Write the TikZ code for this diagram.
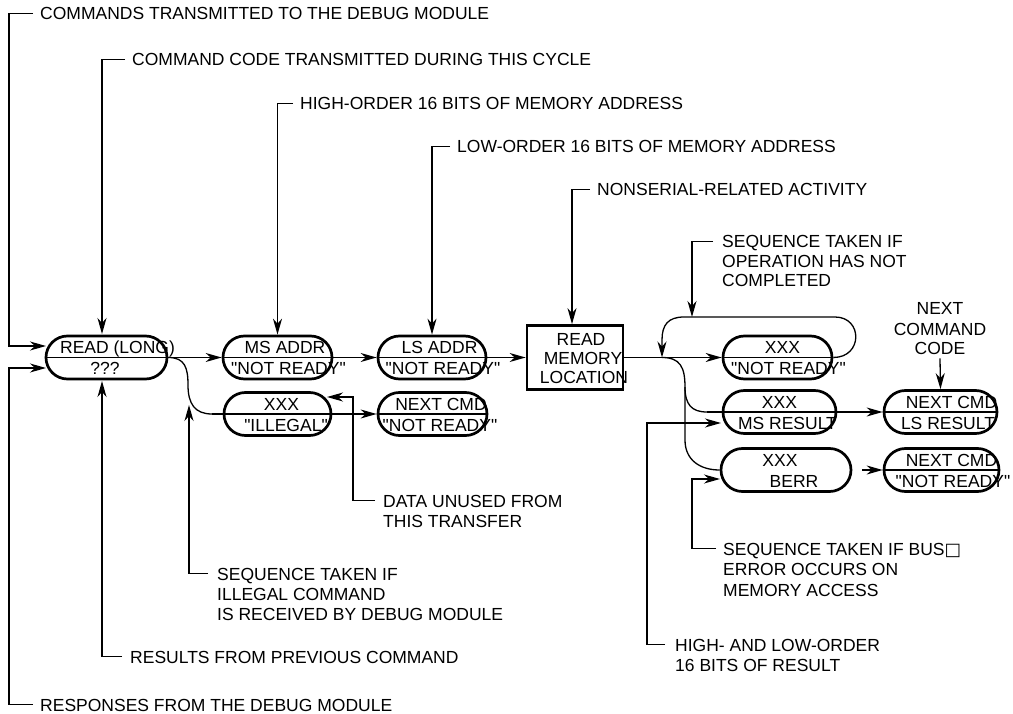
\documentclass[tikz,border=0pt]{standalone}
\usepackage{fontspec}
\setmainfont{Liberation Sans}[Ligatures=TeXOff]
\newfontfamily\symfont{DejaVu Sans}
\usetikzlibrary{arrows.meta,calc}
\newcommand\mkpill[8]{%
  \node[pill,minimum width=#4] (#1) at (#2,#3) {};
  \node[ntext] (#1a) at ($(#1.center)+(#5,-4)$) {#6};
  \node[ntext] (#1b) at ($(#1.center)+(#7,17)$) {#8};}
\begin{document}
\begin{tikzpicture}[x=1pt,y=-1pt,
  every node/.style={font=\fontsize{17.5}{19.5}\selectfont, inner sep=0pt},
  conn/.style={line width=1.3pt},
  arr/.style={conn,-{Stealth[length=16pt,width=9pt,inset=5pt]}},
  pill/.style={draw,line width=2.7pt,rounded corners=21.5pt,minimum height=43},
  membox/.style={draw,line width=2.7pt,minimum width=96,minimum height=64},
  lbl/.style={anchor=base west,text height=12.5pt,text depth=0pt},
  ntext/.style={anchor=base},
]
\useasboundingbox (0,0) rectangle (1013,714);

% ---- state nodes ----
\mkpill{read}{106.5}{357.5}{121}{11}{READ (LONG)}{-1.5}{???}
\mkpill{msa}{277.5}{357.5}{109}{7.5}{MS ADDR}{11}{"NOT READY"}
\mkpill{lsa}{432}{357.5}{108}{7.5}{LS ADDR}{11}{"NOT READY"}
\mkpill{ill}{277.5}{414}{107}{4}{XXX}{8.5}{"ILLEGAL"}
\mkpill{nctwo}{432.5}{414}{109}{8.5}{NEXT CMD}{7.5}{"NOT READY"}
\mkpill{xnr}{777.5}{357.5}{109}{5}{XXX}{11}{"NOT READY"}
\mkpill{msr}{779.5}{412}{113}{0}{XXX}{8}{MS RESULT}
\mkpill{berr}{786}{470}{130}{-6}{XXX}{8}{BERR}
\mkpill{nls}{940.5}{412}{113}{11}{NEXT CMD}{7.5}{LS RESULT}
\mkpill{nnr}{941.5}{470}{115}{10}{NEXT CMD}{11.5}{"NOT READY"}

\node[membox] (box) at (575,357.5) {};
\node[ntext] (boxa) at (581,345) {READ};
\node[ntext] (boxb) at (583,364) {MEMORY};
\node[ntext] (boxc) at (584,383) {LOCATION};

% ---- main transmission line ----
\draw[arr] (read.west) -- (msa.west);
\draw[arr] (msa.west) -- (lsa.west);
\draw[arr] (lsa.west) -- (box.west);
\coordinate (jn) at (662,357.5);
\draw[arr] (box.east) -- (xnr.west);
\draw[conn] (xnr.west) -- (xnr.east);
\draw[conn] (nctwo.west) -- (nctwo.east);
\draw[conn] (nls.west) -- (nls.east);
\draw[conn] (nnr.west) -- (nnr.east);

% loop: operation not completed
\draw[arr] (xnr.east) .. controls (863,357.5) and (863,317) .. (835,317)
  -- (684,317) .. controls (668,317) and (662,325) .. (662,340) -- (jn);

% right branches
\draw[conn] (jn) .. controls (680,357.5) and (685,367) .. (685,387) coordinate (jv)
  .. controls (685,405) and (692,412) .. (707,412) coordinate (jm);
\draw[arr] (jm) -- (nls.west);
\draw[conn] (jv) -- (685,440) .. controls (685,460) and (700,470) .. (berr.west);
\draw[arr] ([xshift=10pt]berr.east) -- (nnr.west);

% left branch (illegal)
\draw[conn] (read.east) .. controls (185,357.5) and (188,368) .. (188,385)
  .. controls (188,404) and (195,414) .. (212,414) coordinate (im);
\draw[arr] (im) -- (nctwo.west);

% ---- labels ----
\node[lbl] (l1) at (40,20) {COMMANDS TRANSMITTED TO THE DEBUG MODULE};
\coordinate (t1) at (46,346);
\draw[arr] ([xshift=-7pt]l1.west) -- ++(-24,0) |- (t1);

\node[lbl] (l2) at (132,66) {COMMAND CODE TRANSMITTED DURING THIS CYCLE};
\coordinate (t2) at (102,334);
\draw[arr] ([xshift=-7pt]l2.west) -| (t2);

\node[lbl] (l3) at (300,110) {HIGH-ORDER 16 BITS OF MEMORY ADDRESS};
\draw[arr] ([xshift=-7pt]l3.west) -| (msa.north);

\node[lbl] (l4) at (457,153) {LOW-ORDER 16 BITS OF MEMORY ADDRESS};
\draw[arr] ([xshift=-7pt]l4.west) -| (lsa.north);

\node[lbl] (l5) at (597,196) {NONSERIAL-RELATED ACTIVITY};
\coordinate (t5) at ($(box.north)+(-3,0)$);
\draw[arr] ([xshift=-7pt]l5.west) -| (t5);

\node[lbl] (l6) at (722,248) {SEQUENCE TAKEN IF};
\node[lbl] (l6b) at (722,267.5) {OPERATION HAS NOT};
\node[lbl] (l6c) at (722,287) {COMPLETED};
\coordinate (t6) at (692,317);
\draw[arr] ([xshift=-9pt]l6.west) -| (t6);

\node[ntext] (nxa) at (940,315) {NEXT};
\node[ntext] (nxb) at (940,335) {COMMAND};
\node[ntext] (nxc) at (940,355) {CODE};
\draw[arr] ([yshift=-3pt]nxc.south) -- (nls.north);

\node[lbl] (l7) at (383,507) {DATA UNUSED FROM};
\node[lbl] (l7b) at (383,527) {THIS TRANSFER};
\coordinate (t7) at (327,397);
\draw[arr] ([xshift=-8pt]l7.west) -- ++(-22,0) |- (t7);

\node[lbl] (l8) at (217,580) {SEQUENCE TAKEN IF};
\node[lbl] (l8b) at (217,600) {ILLEGAL COMMAND};
\node[lbl] (l8c) at (217,620) {IS RECEIVED BY DEBUG MODULE};
\coordinate (t8) at (189,405);
\draw[arr] ([xshift=-9pt]l8.west) -| (t8);

\node[lbl] (l9) at (130,663) {RESULTS FROM PREVIOUS COMMAND};
\coordinate (t9) at (102,381);
\draw[arr] ([xshift=-8pt]l9.west) -| (t9);

\node[lbl] (l10) at (40,711) {RESPONSES FROM THE DEBUG MODULE};
\coordinate (t10) at (46,368);
\draw[arr] ([xshift=-7pt]l10.west) -- ++(-24,0) |- (t10);

\node[lbl] (l11) at (723,555) {SEQUENCE TAKEN IF BUS{\symfont □}};
\node[lbl] (l11b) at (723,575.5) {ERROR OCCURS ON};
\node[lbl] (l11c) at (723,596) {MEMORY ACCESS};
\coordinate (t11) at (720,479);
\draw[arr] ([xshift=-7pt]l11.west) -- ++(-24,0) |- (t11);

\node[lbl] (l12) at (675,651) {HIGH- AND LOW-ORDER};
\node[lbl] (l12b) at (675,671) {16 BITS OF RESULT};
\coordinate (t12) at (721,423);
\draw[arr] ([xshift=-10pt]l12.west) -- ++(-18,0) |- (t12);
\end{tikzpicture}
\end{document}
